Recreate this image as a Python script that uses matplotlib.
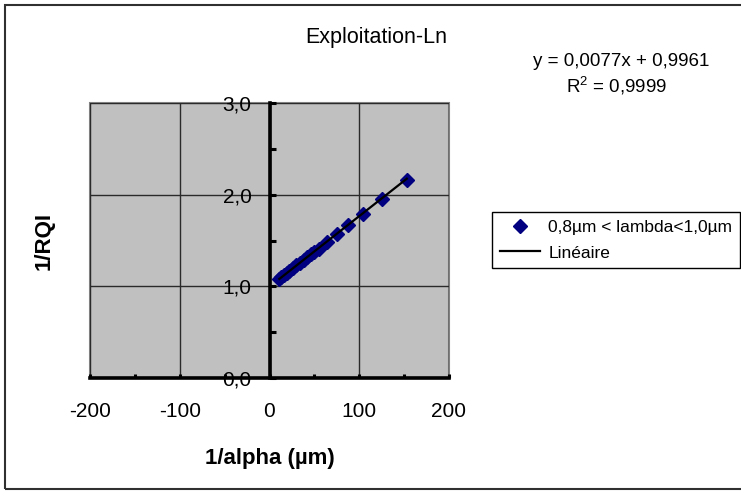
import matplotlib
matplotlib.use('Agg')
from matplotlib import pyplot as plt
from matplotlib.patches import Rectangle
from matplotlib.ticker import MultipleLocator, FuncFormatter
import numpy as np

plt.rcParams['font.family'] = ['Liberation Sans', 'DejaVu Sans']
plt.rcParams['axes.unicode_minus'] = False
plt.rcParams['mathtext.fontset'] = 'custom'
plt.rcParams['mathtext.rm'] = 'Liberation Sans'
plt.rcParams['mathtext.default'] = 'regular'

# data
inv_alpha = [11, 13, 16, 19, 22, 26, 30, 34, 38, 42, 46, 50, 55, 64, 75, 87, 104, 125, 153]
inv_rqi = [1.08, 1.10, 1.12, 1.15, 1.17, 1.20, 1.23, 1.26, 1.29, 1.32, 1.35, 1.37, 1.41,
           1.48, 1.57, 1.67, 1.79, 1.95, 2.16]
slope = 0.0077
intercept = 0.9961
series_label = '0,8µm < lambda<1,0µm'
trend_label = 'Linéaire'

fig = plt.figure(figsize=(7.41, 4.92), dpi=100)
ax = fig.add_axes([90 / 741, 1 - 378 / 492, 359 / 741, 275 / 492])

ax.set_facecolor('#c0c0c0')
ax.patch.set_edgecolor('#808080')
ax.patch.set_linewidth(1.5)

xs = np.array([min(inv_alpha), max(inv_alpha)])
ax.plot(inv_alpha, inv_rqi, linestyle='none', marker='D', markersize=7.5,
        color='#000080', label=series_label, zorder=4)
ax.plot(xs, slope * xs + intercept, color='black', lw=1.6, label=trend_label, zorder=5)

ax.set_xlim(-200, 200)
ax.set_ylim(0, 3)
ax.xaxis.set_major_locator(MultipleLocator(100))
ax.xaxis.set_minor_locator(MultipleLocator(50))
ax.yaxis.set_major_locator(MultipleLocator(1))
ax.yaxis.set_minor_locator(MultipleLocator(0.5))
ax.yaxis.set_major_formatter(FuncFormatter(lambda v, p: f'{v:.1f}'.replace('.', ',')))
ax.xaxis.set_major_formatter(FuncFormatter(lambda v, p: f'{v:.0f}'))

ax.grid(True, which='major', color='#2a2a2a', lw=1)
ax.set_axisbelow(True)

for s in ['top', 'right']:
    ax.spines[s].set_visible(False)
ax.spines['left'].set_position(('data', 0))
ax.spines['left'].set_linewidth(2.6)
ax.spines['bottom'].set_linewidth(2.6)

ax.tick_params(axis='y', which='both', direction='in', length=4, width=2.2,
               labelsize=15, pad=13)
ax.tick_params(axis='x', which='both', direction='in', length=3, width=2.2,
               labelsize=15, pad=17)

ax.set_xlabel('1/alpha (µm)', fontsize=16, fontweight='bold')
ax.xaxis.set_label_coords(0.501, -0.291)
ax.xaxis.label.set_va('center')
ax.set_ylabel('1/RQI', fontsize=16, fontweight='bold')
ax.yaxis.set_label_coords(-0.128, 0.5)
ax.yaxis.label.set_va('center')

fig.text(376 / 741, 1 - 37 / 492, 'Exploitation-Ln', fontsize=15.5, ha='center', va='center')
fig.text(621 / 741, 1 - 61 / 492, 'y = 0,0077x + 0,9961', fontsize=13.5, ha='center', va='center')
fig.text(617 / 741, 1 - 86 / 492, 'R$^{2}$ = 0,9999', fontsize=13.5, ha='center', va='center')

leg = ax.legend(loc='upper left', bbox_to_anchor=(492 / 741, 1 - 212 / 492),
                bbox_transform=fig.transFigure, fontsize=12.5, fancybox=False,
                framealpha=1, edgecolor='black', handlelength=2.3, handletextpad=0.5,
                borderpad=0.45, labelspacing=0.6, borderaxespad=0)
leg.get_frame().set_linewidth(1)

fig.patches.append(Rectangle((5 / 741, 3 / 492), 1.2, 1 - 8 / 492, transform=fig.transFigure,
                             fill=False, edgecolor='#303030', lw=1.5))

plt.savefig('out.png', dpi=100)
